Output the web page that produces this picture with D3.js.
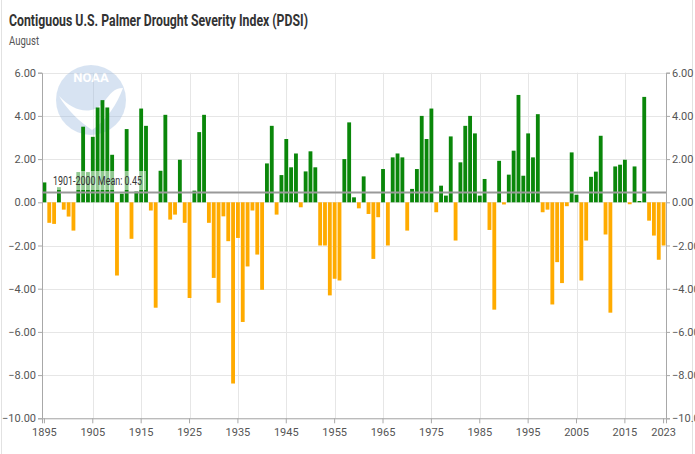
<!DOCTYPE html>
<html>
<head>
<meta charset="utf-8">
<script src="https://cdn.jsdelivr.net/npm/d3@7"></script>
<style>
  body { margin: 0; background: #fff; }
  svg { display: block; font-family: Roboto, "Noto Sans", sans-serif; }
</style>
</head>
<body>
<div id="chart"></div>
<script>
    // August PDSI, contiguous U.S., one value per year
    var firstYear = 1895;
    var lastYear = 2023;
    var pdsi = [
        0.92, -0.95, -1.0, 0.7, -0.34, -0.66, -1.31, 1.4, 3.5, 1.4,
        3.03, 4.39, 4.73, 4.39, 2.2, -3.39, 0.4, 3.39, -1.69, 0.5,
        4.34, 3.54, -0.38, -4.88, 1.46, 4.05, -0.8, -0.57, 1.97, -0.95,
        -4.43, 0.54, 3.25, 4.05, -0.95, -3.5, -4.65, -0.65, -1.8, -8.39,
        -1.65, -5.54, -2.97, -0.38, -2.42, -4.05, 1.8, 3.54, -0.57, 1.26,
        2.93, 1.62, 2.26, -0.23, 1.43, 2.36, 1.62, -2.0, -2.0, -4.31,
        -3.54, -3.62, 2.0, 3.7, 0.23, -0.28, 1.2, -0.54, -2.62, -0.69,
        1.54, -2.0, 2.08, 2.26, 2.08, -1.31, 0.62, 1.54, 4.0, 2.93,
        4.34, -0.46, 0.77, 0.31, 3.05, -1.77, 1.85, 3.54, 4.0, 3.19,
        0.31, 1.08, -1.28, -4.97, 1.92, -0.1, 1.28, 2.39, 4.97, 1.23,
        3.19, 2.08, 4.08, -0.46, -0.34, -4.73, -2.77, -3.74, -0.18, 2.31,
        0.35, -3.62, -1.77, 1.18, 1.42, 3.08, -1.49, -5.11, 1.66, 1.74,
        1.97, -0.09, 1.66, 0.06, 4.88, -0.85, -1.54, -2.66, -2.0
    ];
    var years = d3.range(firstYear, lastYear + 1);
    var yTicks = [-10, -8, -6, -4, -2, 0, 2, 4, 6];
    var xTickYears = [1895, 1905, 1915, 1925, 1935, 1945, 1955, 1965, 1975, 1985, 1995, 2005, 2015, 2023];
    var meanValue = 0.45;
    var meanLabel = "1901-2000 Mean: 0.45";

(function () {
    'use strict';

    var width = 695, height = 454;
    var plotLeft = 42, plotRight = 666, plotTop = 72.7, plotBottom = 418.3;

    var svg = d3.select("#chart").append("svg")
        .attr("width", width)
        .attr("height", height);

    svg.append("rect")
        .attr("x", 1.5).attr("y", -1)
        .attr("width", width - 4).attr("height", height + 2)
        .attr("fill", "none").attr("stroke", "#e2e2e2");

    var x = d3.scaleBand().domain(years).range([plotLeft, plotRight]).padding(0);
    var y = d3.scaleLinear().domain([-10, 6]).range([plotBottom, plotTop]);

    // grid
    svg.append("g").selectAll("line").data(yTicks).enter().append("line")
        .attr("x1", plotLeft).attr("x2", plotRight)
        .attr("y1", function (d) { return Math.round(y(d)) + 0.5; })
        .attr("y2", function (d) { return Math.round(y(d)) + 0.5; })
        .attr("stroke", "#e6e6e6");
    svg.append("g").selectAll("line").data(xTickYears.slice(1, -1)).enter().append("line")
        .attr("x1", function (d) { return Math.round(x(d) + x.bandwidth() / 2) + 0.5; })
        .attr("x2", function (d) { return Math.round(x(d) + x.bandwidth() / 2) + 0.5; })
        .attr("y1", plotTop).attr("y2", plotBottom)
        .attr("stroke", "#e6e6e6");

    // NOAA watermark
    var logo = svg.append("g").attr("opacity", 0.4);
    logo.append("circle").attr("cx", 91).attr("cy", 100).attr("r", 35).attr("fill", "#9dbbe0");
    logo.append("path")
        .attr("d", "M59,96 C74,112 92,116 104,102 C110,94 114,88 123,88 C117,104 107,120 92,130 C80,122 67,110 59,96 Z")
        .attr("fill", "#ffffff");
    logo.append("text").attr("x", 91).attr("y", 82).attr("text-anchor", "middle")
        .attr("font-size", 13).attr("font-weight", "bold").attr("fill", "#ffffff")
        .text("NOAA");

    // bars
    svg.append("g").selectAll("rect").data(pdsi).enter().append("rect")
        .attr("x", function (d, i) { return x(years[i]) + 0.5; })
        .attr("width", x.bandwidth() - 1)
        .attr("y", function (d) { return y(Math.max(0, d)); })
        .attr("height", function (d) { return Math.abs(y(d) - y(0)); })
        .attr("fill", function (d) { return d >= 0 ? "#0a870a" : "#ffab00"; });

    // mean line and label
    svg.append("line")
        .attr("x1", plotLeft).attr("x2", plotRight)
        .attr("y1", y(meanValue)).attr("y2", y(meanValue))
        .attr("stroke", "#999").attr("stroke-width", 2);
    svg.append("rect")
        .attr("x", 50).attr("y", 171).attr("width", 96).attr("height", 19)
        .attr("fill", "#fff").attr("opacity", 0.55);
    svg.append("text")
        .attr("x", 53).attr("y", 185)
        .attr("font-size", 12).attr("fill", "#333")
        .attr("textLength", 89).attr("lengthAdjust", "spacingAndGlyphs")
        .text(meanLabel);

    // axes
    var fmt = d3.format(".2f");
    var yLeft = d3.axisLeft(y).tickValues(yTicks).tickFormat(fmt).tickSize(4).tickPadding(2);
    var yRight = d3.axisRight(y).tickValues(yTicks).tickFormat(fmt).tickSize(4).tickPadding(2);
    var xAxis = d3.axisBottom(x).tickValues(xTickYears).tickSize(5).tickPadding(5);

    function styleAxis(g) {
        g.select(".domain").attr("stroke", "#a8a8a8");
        g.selectAll(".tick line").attr("stroke", "#a8a8a8");
        g.selectAll(".tick text").attr("fill", "#555").attr("font-size", 11)
            .attr("font-family", "Roboto, sans-serif");
    }
    svg.append("g").attr("transform", "translate(" + plotLeft + ",0)").call(yLeft).call(styleAxis);
    svg.append("g").attr("transform", "translate(" + plotRight + ",0)").call(yRight).call(styleAxis);
    svg.append("g").attr("transform", "translate(0," + plotBottom + ")").call(xAxis).call(styleAxis);

    // titles
    svg.append("text")
        .attr("x", 9).attr("y", 26)
        .attr("font-size", 17).attr("font-weight", "bold").attr("fill", "#333")
        .attr("textLength", 299).attr("lengthAdjust", "spacingAndGlyphs")
        .text("Contiguous U.S. Palmer Drought Severity Index (PDSI)");
    svg.append("text")
        .attr("x", 9).attr("y", 45)
        .attr("font-size", 13).attr("fill", "#555")
        .attr("textLength", 30).attr("lengthAdjust", "spacingAndGlyphs")
        .text("August");
})();
</script>
</body>
</html>
